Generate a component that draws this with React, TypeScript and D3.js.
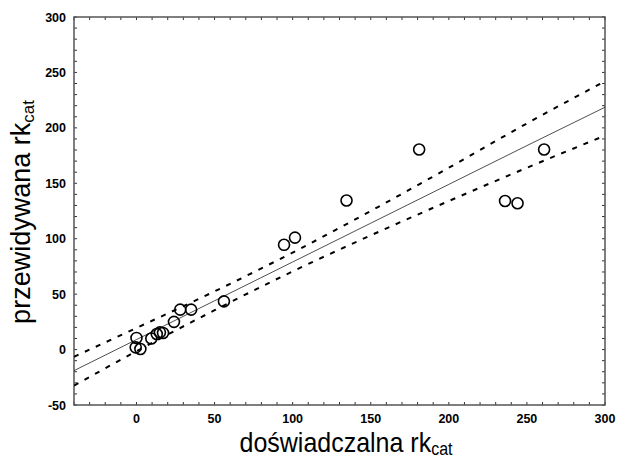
import React, { useEffect, useRef } from 'react'
import * as d3 from 'd3'

// measured points (experimental vs predicted rk_cat)
const expX = [0, -0.5, 2.5, 9.5, 13, 15, 17, 24, 28, 35, 56, 94.5, 101.5, 134.5, 181, 236, 244, 261]
const predY = [10.5, 2, 0.5, 10, 14, 15.5, 15, 25, 36, 36, 43.5, 94.5, 101, 134.5, 180.5, 134, 132, 180.5]

// fitted line and confidence band
const bandX = [-40, 0, 50, 100, 150, 200, 250, 300]
const fitY = [-19, 9, 44, 79, 114, 149, 184, 218.6]
const upperY = [-6.5, 19.5, 52.5, 87.5, 125, 164, 204, 242]
const lowerY = [-32.5, -1.5, 35.5, 70.5, 103, 134, 164, 193]

const xTicks = [0, 50, 100, 150, 200, 250, 300]
const yTicks = [-50, 0, 50, 100, 150, 200, 250, 300]

const App = () => {
    const ref = useRef<SVGSVGElement>(null)

    useEffect(() => {
        const width = 617
        const height = 461
        const left = 74, right = 605, top = 17, bottom = 405

        const svg = d3.select(ref.current)
        svg.selectAll('*').remove()

        const x = d3.scaleLinear().domain([-40, 300]).range([left, right])
        const y = d3.scaleLinear().domain([-50, 300]).range([bottom, top])

        const font = '"Liberation Sans", Arial, sans-serif'

        // minor ticks, inward on all four sides
        const minorX = d3.range(-40, 301, 10)
        const minorY = d3.range(-50, 301, 10)
        const tickG = svg.append('g').attr('stroke', '#333').attr('stroke-width', 1)
        tickG.selectAll('.tb').data(minorX).join('line')
            .attr('x1', d => x(d)).attr('x2', d => x(d))
            .attr('y1', bottom).attr('y2', bottom - 3)
        tickG.selectAll('.tt').data(minorX).join('line')
            .attr('x1', d => x(d)).attr('x2', d => x(d))
            .attr('y1', top).attr('y2', top + 3)
        tickG.selectAll('.tl').data(minorY).join('line')
            .attr('y1', d => y(d)).attr('y2', d => y(d))
            .attr('x1', left).attr('x2', left + 3)
        tickG.selectAll('.tr').data(minorY).join('line')
            .attr('y1', d => y(d)).attr('y2', d => y(d))
            .attr('x1', right).attr('x2', right - 3)

        // frame
        svg.append('rect')
            .attr('x', left).attr('y', top)
            .attr('width', right - left).attr('height', bottom - top)
            .attr('fill', 'none').attr('stroke', '#555').attr('stroke-width', 1.5)

        // tick labels
        svg.append('g')
            .attr('font-family', font).attr('font-size', 12.5).attr('font-weight', 'bold')
            .attr('text-anchor', 'middle')
            .selectAll('text').data(xTicks).join('text')
            .attr('x', d => x(d)).attr('y', 423)
            .text(d => d)
        svg.append('g')
            .attr('font-family', font).attr('font-size', 12.5).attr('font-weight', 'bold')
            .attr('text-anchor', 'end')
            .selectAll('text').data(yTicks).join('text')
            .attr('x', 66).attr('y', d => y(d) + 4.5)
            .text(d => d)

        // clip to the plot area
        svg.append('clipPath').attr('id', 'plotclip')
            .append('rect').attr('x', left).attr('y', top)
            .attr('width', right - left).attr('height', bottom - top)
        const plot = svg.append('g').attr('clip-path', 'url(#plotclip)')

        const line = (vals: number[]) => d3.line<number>()
            .x((_, i) => x(bandX[i]))
            .y(d => y(d))
            .curve(d3.curveMonotoneX)(vals)

        plot.append('path').attr('d', line(fitY))
            .attr('fill', 'none').attr('stroke', '#222').attr('stroke-width', 0.8)
        ;[upperY, lowerY].forEach(vals => {
            plot.append('path').attr('d', line(vals))
                .attr('fill', 'none').attr('stroke', '#000')
                .attr('stroke-width', 2).attr('stroke-dasharray', '5,7')
        })

        plot.append('g').selectAll('circle').data(expX).join('circle')
            .attr('cx', d => x(d)).attr('cy', (_, i) => y(predY[i]))
            .attr('r', 5.5)
            .attr('fill', 'none').attr('stroke', '#000').attr('stroke-width', 1.6)

        // axis titles
        const xt = svg.append('text')
            .attr('font-family', font).attr('font-size', 25)
            .attr('text-anchor', 'middle')
            .attr('transform', 'translate(346,452) scale(1,1.1)')
        xt.append('tspan').text('doświadczalna rk')
        xt.append('tspan').attr('font-size', 16).attr('dy', 2.5).text('cat')

        const yt = svg.append('text')
            .attr('font-family', font).attr('font-size', 27)
            .attr('text-anchor', 'middle')
            .attr('transform', `translate(30,212) rotate(-90)`)
        yt.append('tspan').text('przewidywana rk')
        yt.append('tspan').attr('font-size', 17).attr('dy', 4).text('cat')

        svg.attr('width', width).attr('height', height)
    }, [])

    return (
        <svg ref={ref} width={617} height={461}
            style={{ position: 'absolute', left: 0, top: 0, background: '#fff' }} />
    )
}

export default App
